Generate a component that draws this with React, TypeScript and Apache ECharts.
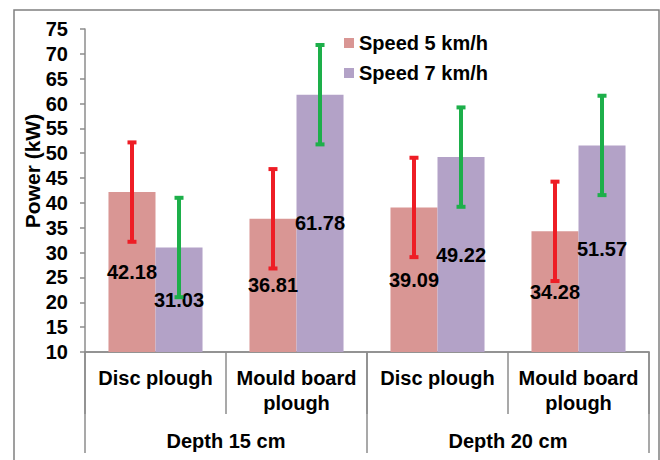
import React, { useEffect, useRef } from "react";
import * as echarts from "echarts";

const categories = ["Disc plough", "Mould board\nplough", "Disc plough", "Mould board\nplough"];
const groups = ["Depth 15 cm", "Depth 20 cm"];
const seriesNames = ["Speed 5 km/h", "Speed 7 km/h"];
const speed5 = [42.18, 36.81, 39.09, 34.28];
const speed7 = [31.03, 61.78, 49.22, 51.57];
const err5 = [10, 10, 10, 10];
const err7 = [10, 10, 10, 10];

const FONT = "Arial, 'Liberation Sans', sans-serif";
const BAR_GAP_FRAC = 0.333;

function errorSeries(name: string, values: number[], errs: number[], color: string, sign: number) {
  return {
    type: "custom",
    name,
    z: 5,
    data: values.map((v, i) => [i, v - errs[i], v + errs[i]]),
    encode: { x: 0, y: [1, 2] },
    renderItem: (params: any, api: any) => {
      const x = api.value(0);
      const low = api.value(1);
      const high = api.value(2);
      const top = api.coord([x, high]);
      const bot = api.coord([x, low]);
      const band = api.size([1, 0])[0];
      const off = ((band * (1 - BAR_GAP_FRAC)) / 4) * sign;
      const cx = top[0] + off;
      const half = 4.5;
      const style = { stroke: color, lineWidth: 4 };
      return {
        type: "group",
        children: [
          { type: "line", shape: { x1: cx, y1: top[1], x2: cx, y2: bot[1] }, style },
          { type: "line", shape: { x1: cx - half, y1: top[1], x2: cx + half, y2: top[1] }, style },
          { type: "line", shape: { x1: cx - half, y1: bot[1], x2: cx + half, y2: bot[1] }, style },
        ],
      };
    },
  };
}

export default function App() {
  const ref = useRef<HTMLDivElement>(null);
  useEffect(() => {
    if (!ref.current) return;
    const chart = echarts.init(ref.current, null, { renderer: "svg" });
    const axisGray = "#8c8c8c";
    const labelStyle = { color: "#000", fontWeight: "bold" as const, fontSize: 20, fontFamily: FONT };
    chart.setOption({
      animation: false,
      backgroundColor: "#fff",
      grid: { left: 85, right: 11, top: 29, bottom: 108, containLabel: false },
      legend: {
        data: seriesNames,
        orient: "vertical",
        left: 344,
        top: 33,
        padding: 0,
        itemWidth: 10,
        itemHeight: 10,
        itemGap: 10,
        icon: "rect",
        textStyle: { ...labelStyle, lineHeight: 20 },
      },
      xAxis: [
        {
          type: "category",
          data: categories,
          position: "bottom",
          axisLine: { onZero: false, lineStyle: { color: axisGray, width: 1.5 } },
          axisTick: { show: true, alignWithLabel: false, interval: 0, length: 62, lineStyle: { color: axisGray, width: 1.5 } },
          axisLabel: { ...labelStyle, interval: 0, margin: 13, lineHeight: 25 },
        },
        {
          type: "category",
          data: groups,
          position: "bottom",
          axisLine: { onZero: false, lineStyle: { color: axisGray, width: 1.5 } },
          axisTick: { show: true, alignWithLabel: false, interval: 0, length: 101, lineStyle: { color: axisGray, width: 1.5 } },
          axisLabel: { ...labelStyle, interval: 0, margin: 76, lineHeight: 25 },
        },
      ],
      yAxis: {
        type: "value",
        min: 10,
        max: 75,
        interval: 5,
        startValue: 10,
        axisLine: { show: true, lineStyle: { color: axisGray, width: 1.5 } },
        axisTick: { show: true, length: 5, lineStyle: { color: axisGray, width: 1.5 } },
        axisLabel: { ...labelStyle, margin: 17 },
        splitLine: { show: false },
      },
      graphic: [
        {
          type: "rect",
          z: -1,
          shape: { x: 14, y: 10, width: 645, height: 470 },
          style: { fill: "none", stroke: "#808080", lineWidth: 1.5 },
        },
        {
          type: "text",
          x: 32,
          y: 171,
          rotation: Math.PI / 2,
          style: {
            text: "Power (kW)",
            fill: "#000",
            font: `bold 21px ${FONT}`,
            textAlign: "center",
            textVerticalAlign: "middle",
          },
        },
      ],
      series: [
        {
          type: "bar",
          name: seriesNames[0],
          data: speed5,
          barGap: "0%",
          barCategoryGap: "33.3%",
          itemStyle: { color: "#D99694" },
          label: { show: true, position: "inside", ...labelStyle },
        },
        {
          type: "bar",
          name: seriesNames[1],
          data: speed7,
          barGap: "0%",
          barCategoryGap: "33.3%",
          itemStyle: { color: "#B3A2C7" },
          label: { show: true, position: "inside", ...labelStyle },
        },
        errorSeries("err5", speed5, err5, "#EE1D25", -1),
        errorSeries("err7", speed7, err7, "#1DAF4A", 1),
      ],
    });
    return () => chart.dispose();
  }, []);
  return <div ref={ref} style={{ position: "fixed", left: 0, top: 0, width: 660, height: 460 }} />;
}
